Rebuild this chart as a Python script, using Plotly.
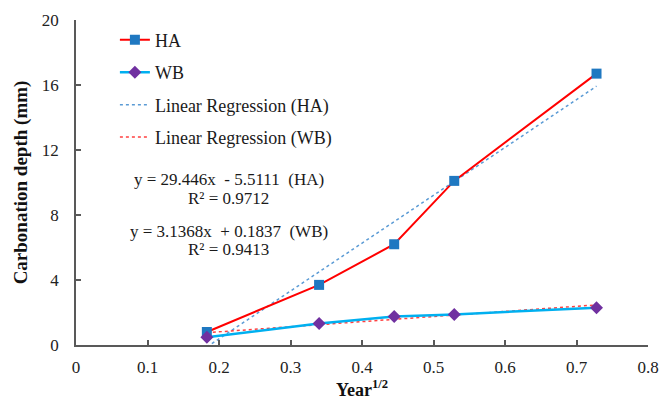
import plotly.graph_objects as go

# Data
x_ha = [0.183, 0.340, 0.445, 0.529, 0.728]
y_ha = [0.80, 3.70, 6.20, 10.10, 16.70]
x_wb = [0.183, 0.340, 0.445, 0.529, 0.728]
y_wb = [0.47, 1.32, 1.75, 1.88, 2.30]

# Regression coefficients printed on the chart
slope_ha, icpt_ha, r2_ha = 29.446, -5.5111, 0.9712
slope_wb, icpt_wb, r2_wb = 3.1368, 0.1837, 0.9413

x_ticks = [0, 0.1, 0.2, 0.3, 0.4, 0.5, 0.6, 0.7, 0.8]
y_ticks = [0, 4, 8, 12, 16, 20]

reg_x_ha = [min(x_ha), max(x_ha)]
reg_y_ha = [slope_ha * v + icpt_ha for v in reg_x_ha]
reg_x_wb = [min(x_wb), max(x_wb)]
reg_y_wb = [slope_wb * v + icpt_wb for v in reg_x_wb]

FONT = "Times New Roman, Liberation Serif, serif"

fig = go.Figure()
fig.add_trace(go.Scatter(x=reg_x_ha, y=reg_y_ha, mode="lines", name="Linear Regression (HA)",
                         legendgroup="c", legendrank=3,
                         line=dict(color="#5B9BD5", width=1.5, dash="dot")))
fig.add_trace(go.Scatter(x=reg_x_wb, y=reg_y_wb, mode="lines", name="Linear Regression (WB)",
                         legendgroup="d", legendrank=4,
                         line=dict(color="#FF4040", width=1.5, dash="dot")))
fig.add_trace(go.Scatter(x=x_ha, y=y_ha, mode="lines+markers", name="HA",
                         legendgroup="a", legendrank=1,
                         line=dict(color="#FF0000", width=2),
                         marker=dict(symbol="square", size=10, color="#1F78C1")))
fig.add_trace(go.Scatter(x=x_wb, y=y_wb, mode="lines+markers", name="WB",
                         legendgroup="b", legendrank=2,
                         line=dict(color="#00B0F0", width=2.5),
                         marker=dict(symbol="diamond", size=10, color="#7030A0")))

ann = [
    (f"y = {slope_ha}x  - {abs(icpt_ha)}  (HA)", 179),
    (f"R² = {r2_ha}", 198),
    (f"y = {slope_wb}x  + {icpt_wb}  (WB)", 232),
    (f"R² = {r2_wb}", 250),
]
for txt, py in ann:
    fig.add_annotation(text=txt, xref="paper", yref="paper",
                       x=(229 - 76.5) / 571.5, y=(345 - py) / 325,
                       showarrow=False, xanchor="center", yanchor="middle",
                       font=dict(family=FONT, size=17, color="#1a1a1a"))

axis_common = dict(showgrid=False, zeroline=False, showline=True,
                   linecolor="#595959", linewidth=1.5, automargin=False,
                   ticks="inside", tickcolor="#595959", tickwidth=1.5,
                   tickfont=dict(family=FONT, size=17, color="#222222"))

fig.update_xaxes(range=[0, 0.8], tickvals=x_ticks,
                 ticktext=[("0" if v == 0 else f"{v:g}") for v in x_ticks],
                 ticklen=5, ticklabelstandoff=6,
                 title=dict(text="<b>Year<sup>1/2</sup></b>", standoff=4,
                            font=dict(family=FONT, size=18, color="#111111")),
                 **axis_common)
fig.update_yaxes(range=[0, 20], tickvals=y_ticks,
                 ticklen=5, ticklabelstandoff=12,
                 title=dict(text="<b>Carbonation depth (mm)</b>", standoff=9,
                            font=dict(family=FONT, size=19, color="#111111")),
                 **axis_common)

fig.update_layout(
    width=659, height=400,
    margin=dict(l=76, r=11, t=20, b=55),
    paper_bgcolor="white", plot_bgcolor="white",
    showlegend=True,
    legend=dict(x=0.068, y=0.995, xanchor="left", yanchor="top",
                traceorder="grouped", tracegroupgap=6,
                bgcolor="rgba(0,0,0,0)",
                font=dict(family=FONT, size=18, color="#1a1a1a")),
)

fig.write_html("out.html")
